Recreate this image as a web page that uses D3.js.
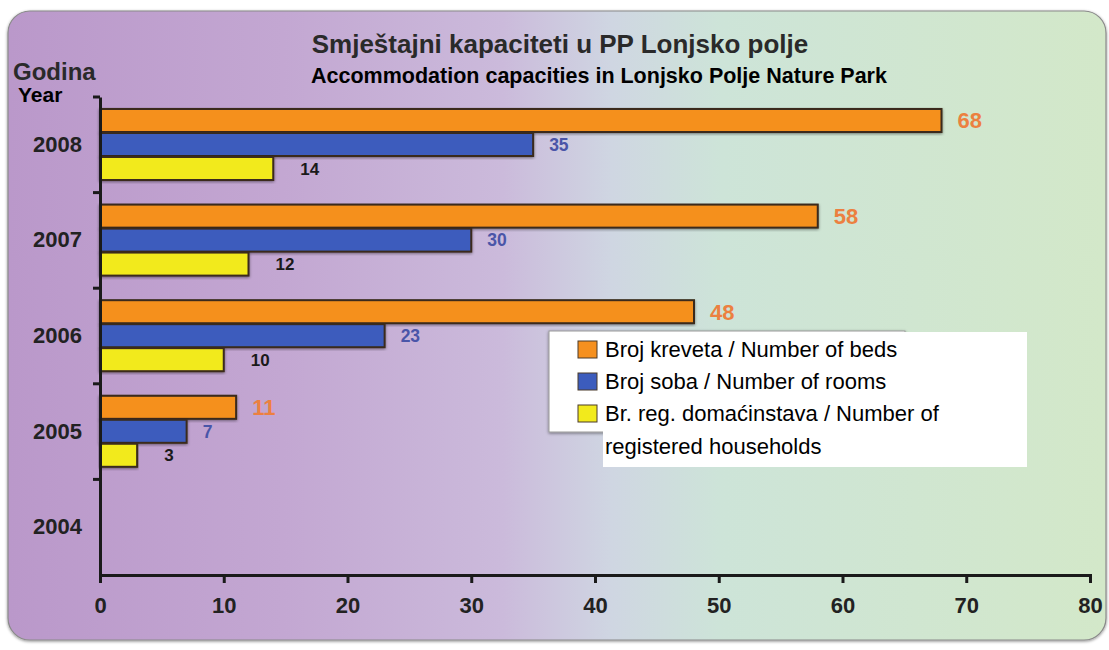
<!DOCTYPE html>
<html><head><meta charset="utf-8">
<script src="https://cdn.jsdelivr.net/npm/d3@7"></script>
<style>body{margin:0;background:#fff}svg{display:block}text{font-family:"Liberation Sans",Arial,sans-serif}</style>
</head><body>
<svg id="c" width="1109" height="650"></svg>
<script>
const years = ["2008","2007","2006","2005","2004"];
const beds = [68, 58, 48, 11, null];
const rooms = [35, 30, 23, 7, null];
const households = [14, 12, 10, 3, null];
const xTicks = [0,10,20,30,40,50,60,70,80];
const seriesNames = ["Broj kreveta / Number of beds","Broj soba / Number of rooms","Br. reg. domaćinstava / Number of registered households"];
const titleHr = "Smještajni kapaciteti u PP Lonjsko polje";
const titleEn = "Accommodation capacities in Lonjsko Polje Nature Park";

const svg = d3.select("#c");
const defs = svg.append("defs");
const bg = defs.append("linearGradient").attr("id","bg").attr("x1","0").attr("x2","1").attr("y1","0").attr("y2","0");
[[0,"#ba98ca"],[0.25,"#c3a7d2"],[0.45,"#cbbadb"],[0.55,"#cfd6e2"],[0.65,"#cde4d8"],[1,"#d3e8c9"]].forEach(s=>bg.append("stop").attr("offset",s[0]).attr("stop-color",s[1]));
const sh = defs.append("filter").attr("id","sh").attr("x","-5%").attr("y","-5%").attr("width","110%").attr("height","120%");
sh.append("feDropShadow").attr("dx",0).attr("dy",1).attr("stdDeviation",1.5).attr("flood-color","#000").attr("flood-opacity",0.45);

svg.append("rect").attr("x",8).attr("y",11).attr("width",1098).attr("height",629).attr("rx",22)
  .attr("fill","url(#bg)").attr("stroke","#8a8a8a").attr("stroke-width",1.2).attr("filter","url(#sh)");

const x = d3.scaleLinear().domain([0,80]).range([100,1090]);
const y = d3.scaleBand().domain(years).range([97,575]);
const sub = d3.scaleBand().domain([0,1,2]).range([12,83]).paddingInner(0.04);

const colors = ["#f5901f","#3c5cbd","#f2ea1c"];
const labelColors = ["#ec8040","#4a55a8","#1a1a1a"];
const labelSizes = [22,17.5,17];
const labelOffsets = [16,16,27];
const series = [beds, rooms, households];

series.forEach((vals,si)=>{
  const g = svg.append("g");
  years.forEach((yr,i)=>{
    const v = vals[i];
    if(v==null) return;
    const y0 = y(yr)+sub(si);
    g.append("rect").attr("x",x(0)).attr("y",y0).attr("width",x(v)-x(0)).attr("height",sub.bandwidth())
      .attr("fill",colors[si]).attr("stroke","#3a2a1c").attr("stroke-width",2).attr("filter","url(#sh)");
    g.append("text").attr("x",x(v)+labelOffsets[si]).attr("y",y0+sub.bandwidth()/2)
      .attr("dy","0.36em").attr("font-weight","bold").attr("font-size",labelSizes[si])
      .attr("fill",labelColors[si]).text(v);
  });
});

// axes
const xa = svg.append("g").attr("transform","translate(0,575)")
  .call(d3.axisBottom(x).tickValues(xTicks).tickSize(8).tickPadding(14).tickFormat(d3.format("d")));
xa.select(".domain").attr("stroke","#1a1a1a").attr("stroke-width",3);
xa.selectAll(".tick line").attr("stroke","#1a1a1a").attr("stroke-width",3);
xa.selectAll(".tick text").attr("font-size",22).attr("font-weight","bold").attr("fill","#222").attr("font-family","Liberation Sans, Arial");

const ya = svg.append("g").attr("transform","translate(100,0)")
  .call(d3.axisLeft(y).tickSize(0).tickPadding(18));
ya.select(".domain").attr("stroke","#1a1a1a").attr("stroke-width",3);
ya.selectAll(".tick text").attr("font-size",22).attr("font-weight","bold").attr("fill","#222").attr("font-family","Liberation Sans, Arial");
// boundary ticks
const bounds = years.map(d=>y(d));
svg.append("g").selectAll("line").data(bounds).join("line")
  .attr("x1",93).attr("x2",100).attr("y1",d=>d).attr("y2",d=>d).attr("stroke","#1a1a1a").attr("stroke-width",3);

// titles
svg.append("text").attr("x",560).attr("y",53).attr("text-anchor","middle").attr("font-size",26).attr("font-weight","bold").attr("fill","#2a2a2a").text(titleHr);
svg.append("text").attr("x",599).attr("y",83).attr("text-anchor","middle").attr("font-size",21.5).attr("font-weight","bold").attr("fill","#000").text(titleEn);
svg.append("text").attr("x",13).attr("y",80).attr("font-size",24).attr("font-weight","bold").attr("fill","#2a2a2a").text("Godina");
svg.append("text").attr("x",18).attr("y",102).attr("font-size",21).attr("font-weight","bold").attr("fill","#000").text("Year");

// legend
const lg = svg.append("g");
lg.append("rect").attr("x",549).attr("y",331).attr("width",356).attr("height",101).attr("fill","#fff").attr("stroke","#999").attr("stroke-width",1).attr("filter","url(#sh)");
lg.append("rect").attr("x",603).attr("y",332).attr("width",424).attr("height",135).attr("fill","#fff");
const rowsY = [349,381,413];
seriesNames.forEach((n,i)=>{
  lg.append("rect").attr("x",578).attr("y",rowsY[i]-8).attr("width",19).attr("height",17).attr("fill",colors[i]).attr("stroke","#4a3a2a").attr("stroke-width",1);
});
const lt = [seriesNames[0], seriesNames[1], "Br. reg. domaćinstava / Number of", "registered households"];
lt.forEach((t,i)=>{
  lg.append("text").attr("x",605).attr("y",[357,389,421,454][i]).attr("font-size",22).attr("fill","#000").text(t);
});
</script>
</body></html>
